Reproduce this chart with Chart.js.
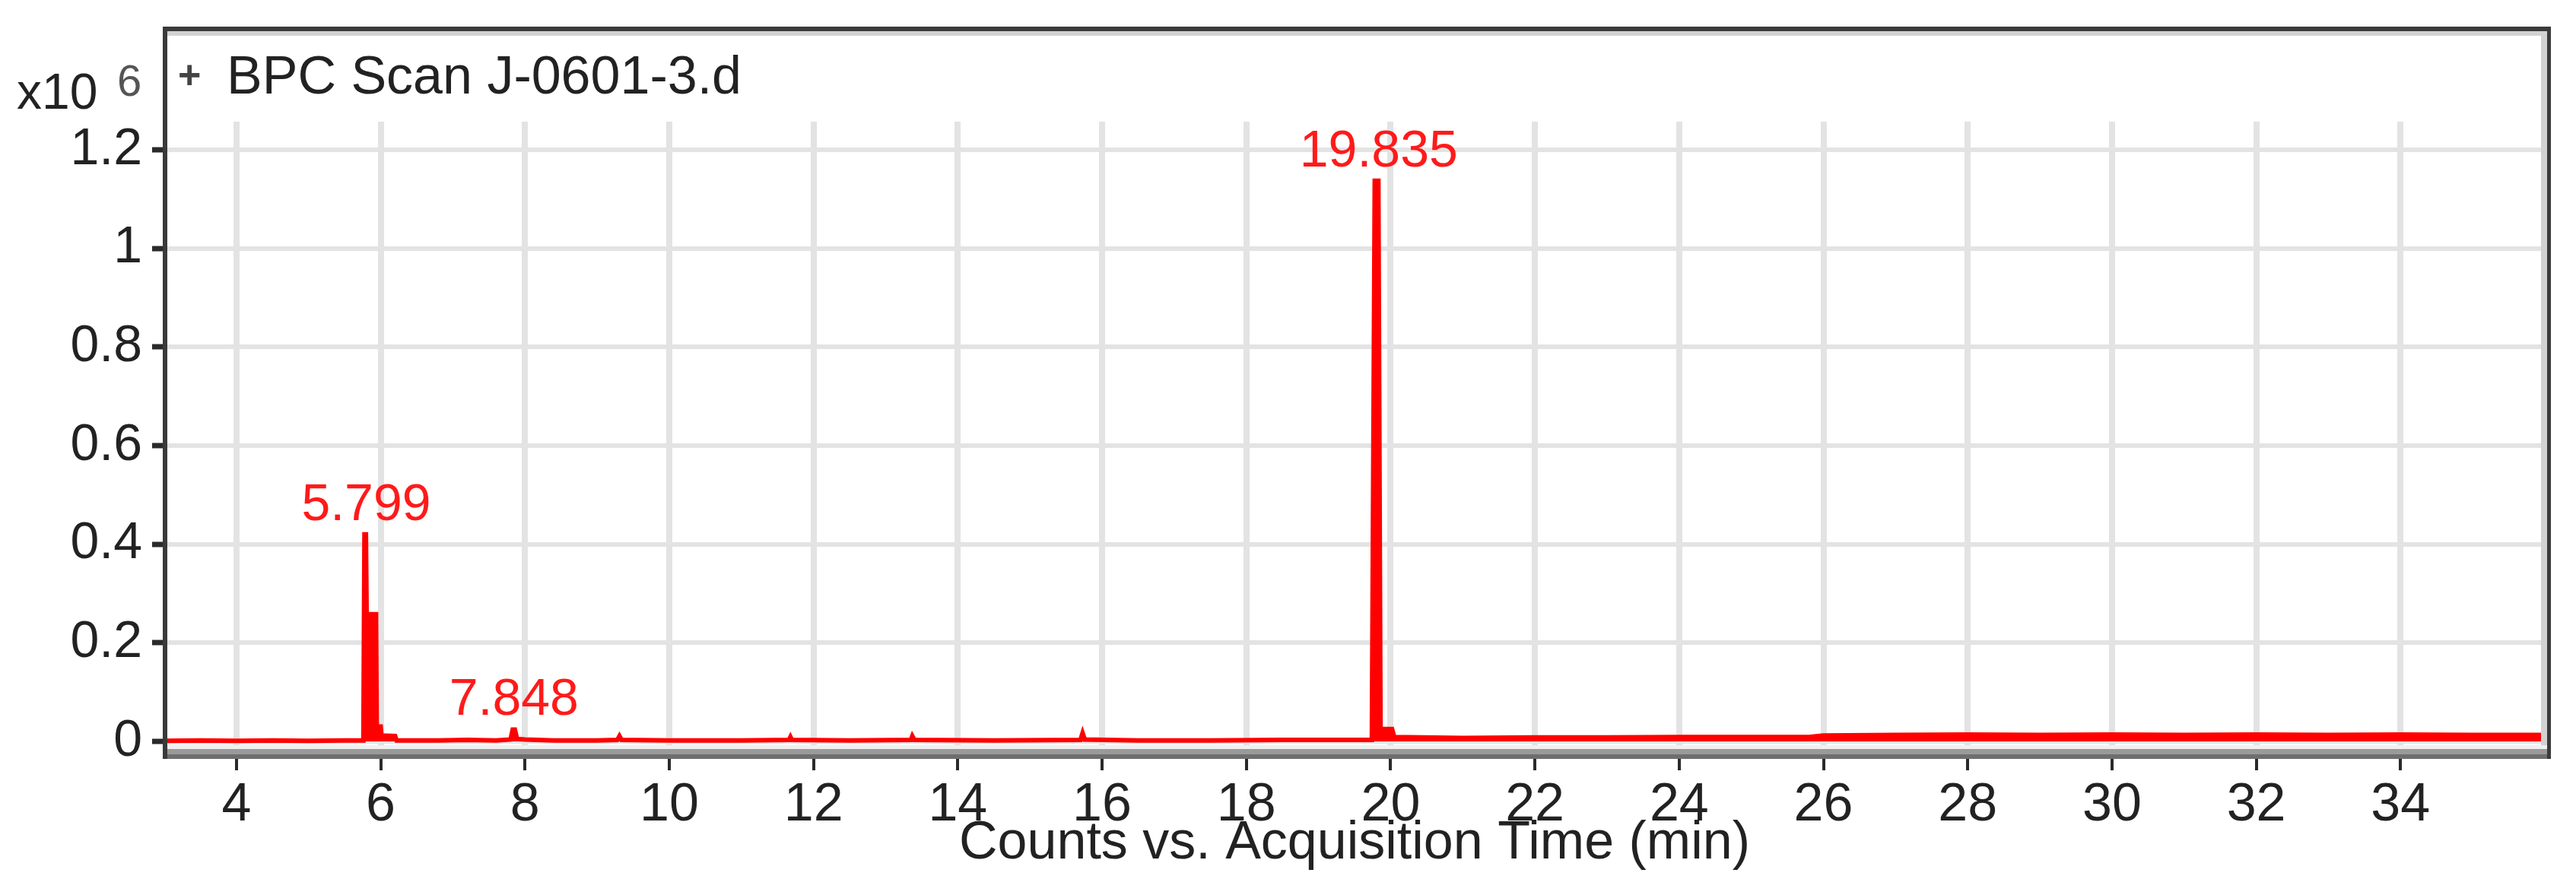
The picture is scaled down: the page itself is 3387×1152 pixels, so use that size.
<!DOCTYPE html>
<html>
<head>
<meta charset="utf-8">
<script src="https://cdn.jsdelivr.net/npm/chart.js@4"></script>
<style>
    html, body { margin: 0; padding: 0; background: #ffffff; }
    #wrap { width: 3387px; height: 1152px; position: relative; }
</style>
</head>
<body>
<div id="wrap"><canvas id="chrom"></canvas></div>
<script>
// retention time (min) and counts (x10^6)
const times = [
    3.0, 3.5, 4.0, 4.5, 5.0, 5.5, 5.76, 5.775, 5.795, 5.805, 5.935, 5.945, 6.0, 6.01, 6.2, 6.22,
    6.8, 7.2, 7.6, 7.8, 7.83, 7.86, 7.89, 8.0, 8.4, 9.0, 9.28, 9.31, 9.34, 10.0, 11.0,
    11.66, 11.68, 11.7, 12.5, 13.35, 13.37, 13.4, 14.5, 15.7, 15.73, 15.76, 16.5, 17.5,
    18.5, 19.5, 19.74, 19.78, 19.83, 19.86, 20.02, 20.05, 21.0, 22.0, 23.0, 24.0, 25.0,
    25.8, 26.0, 27.0, 28.0, 29.0, 30.0, 31.0, 32.0, 33.0, 34.0, 35.0, 36.0
];
const counts = [
    0.001, 0.002, 0.001, 0.002, 0.001, 0.002, 0.002, 0.420, 0.420, 0.258, 0.258, 0.030, 0.030, 0.012, 0.011, 0.002,
    0.002, 0.003, 0.002, 0.004, 0.024, 0.024, 0.005, 0.004, 0.002, 0.002, 0.003, 0.011, 0.003, 0.002, 0.002,
    0.003, 0.009, 0.003, 0.002, 0.003, 0.011, 0.003, 0.002, 0.003, 0.017, 0.004, 0.002, 0.002,
    0.003, 0.003, 0.003, 1.137, 1.137, 0.025, 0.025, 0.009, 0.007, 0.008, 0.008, 0.009, 0.009,
    0.009, 0.012, 0.013, 0.014, 0.013, 0.014, 0.013, 0.014, 0.013, 0.014, 0.013, 0.013
];

const peakTimes = [5.799, 7.848, 19.835];
const peakTops = [0.420, 0.024, 1.137];
const peakLabels = ['5.799', '7.848', '19.835'];

const xTickValues = [4, 6, 8, 10, 12, 14, 16, 18, 20, 22, 24, 26, 28, 30, 32, 34];
const yTickValues = [0, 0.2, 0.4, 0.6, 0.8, 1, 1.2];
const yTickLabels = ['0', '0.2', '0.4', '0.6', '0.8', '1', '1.2'];

const traceName = 'BPC Scan J-0601-3.d';
const xTitle = 'Counts vs. Acquisition Time (min)';

const FONT = "'Liberation Sans', Arial, sans-serif";

const framePlugin = {
    id: 'frame',
    afterDraw(chart) {
        const ctx = chart.ctx;
        const a = chart.chartArea;
        const xs = chart.scales.x;
        const ys = chart.scales.y;
        ctx.save();

        // peak labels
        ctx.fillStyle = '#ff1a1a';
        ctx.font = '68px ' + FONT;
        ctx.textAlign = 'center';
        ctx.textBaseline = 'alphabetic';
        peakTimes.forEach((t, i) => {
            ctx.fillText(peakLabels[i], xs.getPixelForValue(t), ys.getPixelForValue(peakTops[i]) - 19);
        });

        // frame
        const left = a.left - 2, right = a.right + 8, top = 35;
        ctx.fillStyle = '#d2d2d2';
        ctx.fillRect(left, top + 5, right - left, 7);
        ctx.fillRect(right - 13, top, 8, a.bottom - top);
        ctx.fillStyle = '#f0f0f0';
        ctx.fillRect(left, a.bottom - 5, right - left, 5);
        ctx.fillStyle = '#9a9a9a';
        ctx.fillRect(left, a.bottom, right - left, 7);
        ctx.fillStyle = '#6e6e6e';
        ctx.fillRect(left, a.bottom + 7, right - left, 6);
        ctx.fillStyle = '#3a3a3a';
        ctx.fillRect(left, top, right - left, 6);
        ctx.fillRect(left, top, 6, a.bottom + 13 - top);
        ctx.fillRect(right - 5, top, 5, a.bottom + 13 - top);

        // trace name
        ctx.textAlign = 'left';
        ctx.fillStyle = '#444444';
        ctx.font = 'bold 52px ' + FONT;
        ctx.fillText('+', 234, 116);
        ctx.fillStyle = '#222222';
        ctx.font = '70px ' + FONT;
        ctx.fillText(traceName, 298, 123);

        // multiplier
        ctx.fillStyle = '#222222';
        ctx.font = '66px ' + FONT;
        ctx.fillText('x10', 22, 143);
        ctx.fillStyle = '#555555';
        ctx.font = '58px ' + FONT;
        ctx.fillText('6', 154, 126);
        ctx.restore();
    }
};

new Chart(document.getElementById('chrom'), {
    type: 'line',
    data: {
        datasets: [{
            data: times.map((t, i) => ({ x: t, y: counts[i] })),
            borderColor: '#ff0000',
            backgroundColor: '#ff0000',
            borderWidth: 6,
            fill: 'origin',
            pointRadius: 0,
            tension: 0
        }]
    },
    options: {
        responsive: true,
        maintainAspectRatio: false,
        devicePixelRatio: 1,
        animation: false,
        layout: { padding: { top: 160, right: 41, left: 0, bottom: 0 } },
        plugins: {
            legend: { display: false },
            tooltip: { enabled: false }
        },
        scales: {
            x: {
                type: 'linear',
                min: 3,
                max: 36,
                afterFit: (s) => { s.height = 167; },
                afterBuildTicks: (s) => { s.ticks = xTickValues.map(v => ({ value: v })); },
                border: { display: false },
                grid: {
                    color: '#e3e3e3',
                    lineWidth: 8,
                    tickColor: '#2a2a2a',
                    tickWidth: 4,
                    tickLength: 28
                },
                ticks: {
                    color: '#222222',
                    font: { family: FONT, size: 70 },
                    padding: 5,
                    maxRotation: 0,
                    autoSkip: false
                },
                title: {
                    display: true,
                    text: xTitle,
                    color: '#222222',
                    font: { family: FONT, size: 70 },
                    padding: { top: 0, bottom: 0 }
                }
            },
            y: {
                type: 'linear',
                min: -0.0154,
                max: 1.257,
                afterFit: (s) => { s.width = 216; },
                afterBuildTicks: (s) => { s.ticks = yTickValues.map(v => ({ value: v })); },
                border: { display: false },
                grid: {
                    color: '#e3e3e3',
                    lineWidth: 6,
                    tickColor: '#2a2a2a',
                    tickWidth: 7,
                    tickLength: 16
                },
                ticks: {
                    color: '#222222',
                    font: { family: FONT, size: 68 },
                    padding: 13,
                    callback: (v) => yTickLabels[yTickValues.indexOf(v)]
                }
            }
        }
    },
    plugins: [framePlugin]
});
</script>
</body>
</html>
